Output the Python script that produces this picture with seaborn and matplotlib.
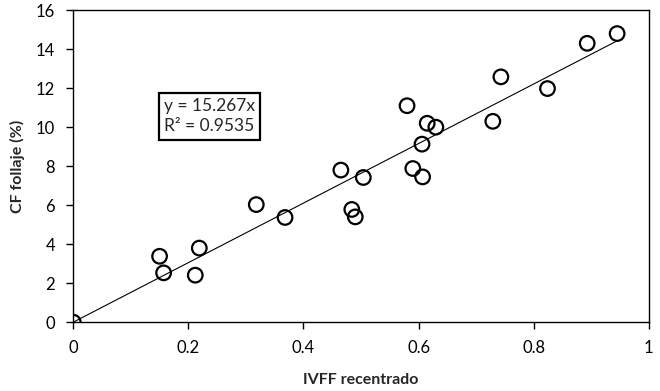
import matplotlib
matplotlib.use("Agg")
import matplotlib.pyplot as plt
import numpy as np
import pandas as pd
import seaborn as sns

# data
ivff = [0.0, 0.150, 0.157, 0.212, 0.219, 0.318, 0.368, 0.465, 0.484, 0.490,
        0.504, 0.580, 0.590, 0.606, 0.607, 0.615, 0.630, 0.729, 0.743, 0.824,
        0.893, 0.945]
cf = [0.0, 3.38, 2.53, 2.41, 3.80, 6.03, 5.37, 7.80, 5.78, 5.40,
      7.42, 11.1, 7.88, 9.13, 7.45, 10.2, 10.0, 10.3, 12.58, 11.98,
      14.3, 14.8]
slope = 15.267
r2 = 0.9535
x_ticks = [0, 0.2, 0.4, 0.6, 0.8, 1]
x_ticklabels = ["0", "0.2", "0.4", "0.6", "0.8", "1"]
y_ticks = [0, 2, 4, 6, 8, 10, 12, 14, 16]

sns.set_style("ticks")
plt.rcParams["font.family"] = ["Lato", "DejaVu Sans"]

df = pd.DataFrame({"x": ivff, "y": cf})
fit = pd.DataFrame({"x": [0, max(ivff)]})
fit["y"] = slope * fit["x"]

fig = plt.figure(figsize=(6.6, 3.91), dpi=100)
ax = fig.add_axes([0.111, 0.176, 0.872, 0.798])

sns.lineplot(data=fit, x="x", y="y", ax=ax, color="black", linewidth=0.8)
sns.scatterplot(data=df, x="x", y="y", ax=ax, s=110, marker="o",
                facecolor="none", edgecolor="black", linewidth=1.6, zorder=3)

ax.set_xlim(0, 1)
ax.set_ylim(0, 16)
ax.set_xticks(x_ticks)
ax.set_xticklabels(x_ticklabels)
ax.set_yticks(y_ticks)
ax.tick_params(direction="out", length=5, width=1, labelsize=12, colors="black", pad=8)
for sp in ax.spines.values():
    sp.set_visible(True)
    sp.set_color("black")
    sp.set_linewidth(1)

ax.set_xlabel("IVFF recentrado", fontsize=11.5, fontweight="bold", labelpad=12)
ax.set_ylabel("CF follaje (%)", fontsize=11.5, fontweight="bold", labelpad=8)

ax.text(0.158, 10.55, f"y = {slope}x\nR² = {r2}", fontsize=12.5, ha="left", va="center",
        linespacing=1.3,
        bbox=dict(boxstyle="square,pad=0.3", facecolor="white", edgecolor="black", linewidth=1.6))

fig.savefig("out.png", dpi=100)
